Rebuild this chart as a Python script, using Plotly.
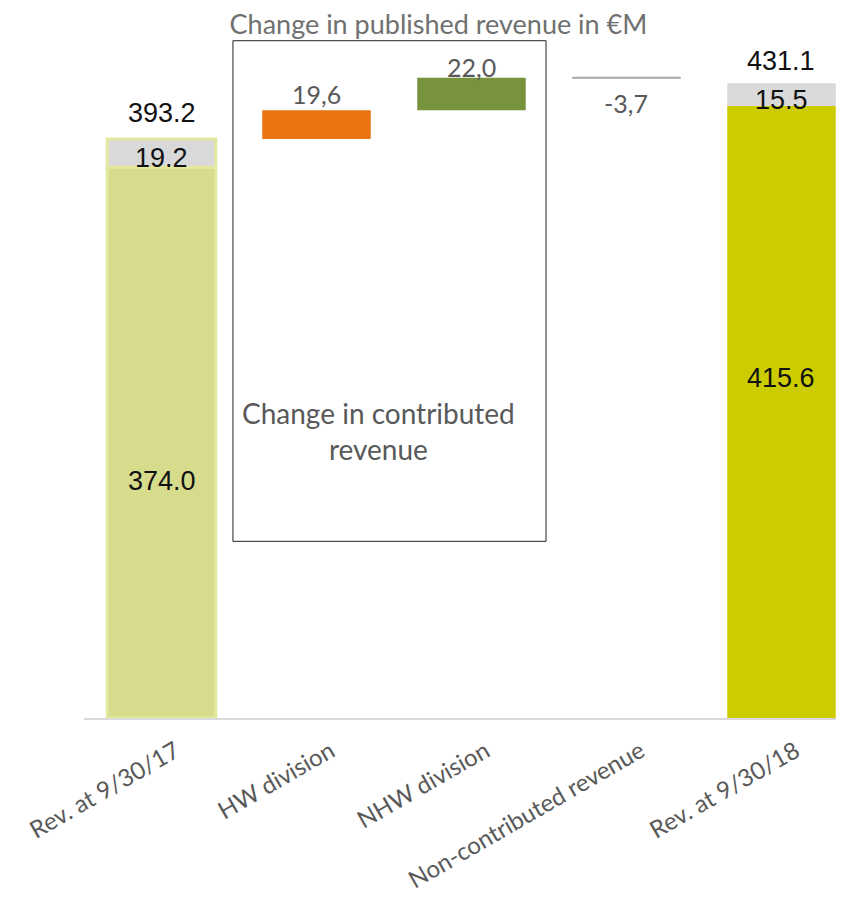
import plotly.graph_objects as go

categories = ["Rev. at 9/30/17", "HW division", "NHW division", "Non-contributed revenue", "Rev. at 9/30/18"]
start_contributed = 374.0
start_noncontributed = 19.2
hw_change = 19.6
nhw_change = 22.0
noncontrib_change = -3.7
end_contributed = 415.6
end_noncontributed = 15.5
start_total_label = "393.2"
end_total_label = "431.1"
change_labels = ["19,6", "22,0", "-3,7"]

start_total = start_contributed + start_noncontributed
after_hw = start_total + hw_change
after_nhw = after_hw + nhw_change
end_total = end_contributed + end_noncontributed

x = list(range(len(categories)))
W = 0.7
fig = go.Figure()

fig.add_bar(x=[x[0]], y=[start_contributed], width=W, marker=dict(color="#d7dc8c", line=dict(color="#e3e89e", width=3)))
fig.add_bar(x=[x[0]], y=[start_noncontributed], base=[start_contributed], width=W,
            marker=dict(color="#d9d9d9", line=dict(color="#e3e89e", width=3)))
fig.add_bar(x=[x[1]], y=[hw_change], base=[start_total], width=W, marker=dict(color="#e9730f", line=dict(width=0)))
fig.add_bar(x=[x[2]], y=[nhw_change], base=[after_hw], width=W, marker=dict(color="#77933c", line=dict(width=0)))
fig.add_trace(go.Scatter(x=[x[3] - W / 2, x[3] + W / 2], y=[after_nhw, after_nhw], mode="lines",
                         line=dict(color="#a6a6a6", width=2), hoverinfo="skip"))
fig.add_bar(x=[x[4]], y=[end_contributed], width=W, marker=dict(color="#cccc00", line=dict(width=0)))
fig.add_bar(x=[x[4]], y=[end_noncontributed], base=[end_contributed], width=W,
            marker=dict(color="#d9d9d9", line=dict(width=0)))

black = "#111111"
grey = "#595959"
ann = []
def a(xx, yy, t, color, size, ys=0):
    ann.append(dict(x=xx, y=yy, text=t, showarrow=False, xref="x", yref="y", yshift=ys,
                    font=dict(family="Liberation Sans, Arial", size=size, color=color)))

a(x[0], start_total, start_total_label, black, 27, 26)
a(x[0], start_contributed + start_noncontributed / 2, f"{start_noncontributed:.1f}", black, 27, -5)
a(x[0], start_contributed * 0.43, f"{start_contributed:.1f}", black, 27)
a(x[4], end_total, end_total_label, black, 27, 22)
a(x[4], end_contributed + end_noncontributed / 2, f"{end_noncontributed:.1f}", black, 27, -5)
a(x[4], end_contributed * 0.555, f"{end_contributed:.1f}", black, 27)
ann2 = [dict(x=x[1], y=after_hw, text=change_labels[0], yshift=16),
        dict(x=x[2], y=after_nhw, text=change_labels[1], yshift=11),
        dict(x=x[3], y=after_nhw, text=change_labels[2], yshift=-25)]
for d in ann2:
    ann.append(dict(x=d["x"], y=d["y"], text=d["text"], yshift=d["yshift"], showarrow=False,
                    font=dict(family="Lato, Open Sans", size=25, color=grey)))

ann.append(dict(x=1.397, y=195, text="Change in contributed<br>revenue", showarrow=False,
                font=dict(family="Lato, Open Sans", size=28, color=grey)))

fig.update_layout(
    width=844, height=901,
    margin=dict(l=76, r=0, t=18, b=191, autoexpand=False),
    paper_bgcolor="white", plot_bgcolor="white",
    showlegend=False, barmode="overlay",
    title=dict(text="Change in published revenue in €M", x=0.51, xanchor="center", y=0.992, yanchor="top",
               pad=dict(t=0, b=0), font=dict(family="Lato, Open Sans", size=27, color="#707070")),
    annotations=ann,
    shapes=[dict(type="rect", xref="x", yref="y", x0=0.461, x1=2.481, y0=120, y1=460,
                 line=dict(color="#222222", width=1), fillcolor="rgba(0,0,0,0)", layer="above")],
    xaxis=dict(range=[-0.5, 4.455], tickmode="array", tickvals=x, ticktext=categories, tickangle=-30,
               showgrid=False, zeroline=False, showline=True, linecolor="#d9d9d9", linewidth=2, automargin=False,
               tickfont=dict(family="Lato, Open Sans", size=24, color=grey), ticks="",
               ticklabelstandoff=8, ticklabelshift=14),
    yaxis=dict(range=[0, 470], visible=False),
)
for t in fig.data:
    t.cliponaxis = False

fig.write_html("out.html")
